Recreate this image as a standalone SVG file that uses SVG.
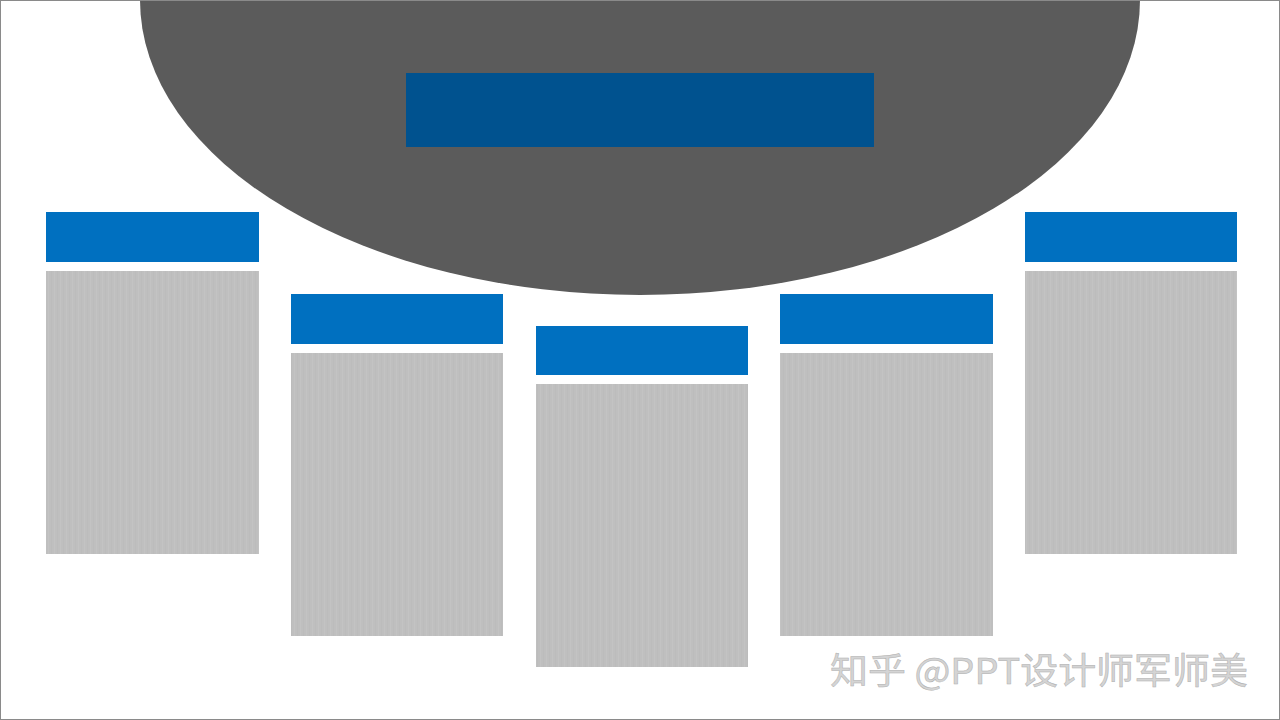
<svg xmlns="http://www.w3.org/2000/svg" width="1280" height="720" viewBox="0 0 1280 720">
<defs>
<pattern id="stripes" width="6" height="10" patternUnits="userSpaceOnUse">
<rect width="6" height="10" fill="#bfbfbf"/>
<rect x="0" width="1" height="10" fill="#c3c3c3"/>
<rect x="3" width="1" height="10" fill="#bcbcbc"/>
</pattern>
</defs>
<style>
.hd{fill:#0070c0}
.bd{fill:url(#stripes)}
.wm{font-family:"Noto Sans CJK SC","Liberation Sans",sans-serif;font-size:36px;fill:#d4d4d4;stroke:#b0b0b0;stroke-width:0.5}
</style>
<rect x="0" y="0" width="1280" height="720" fill="#ffffff"/>
<g id="top-ellipse">
<path d="M140,0 A500,295 0 0 0 1140,0 Z" fill="#5b5b5b"/>
<rect x="406" y="73" width="468" height="74" fill="#00528f"/>
</g>
<g id="card1"><rect class="hd" x="46" y="212" width="213" height="50"/><rect class="bd" x="46" y="271" width="213" height="283"/></g>
<g id="card2"><rect class="hd" x="291" y="294" width="212" height="50"/><rect class="bd" x="291" y="353" width="212" height="283"/></g>
<g id="card3"><rect class="hd" x="536" y="326" width="212" height="49"/><rect class="bd" x="536" y="384" width="212" height="283"/></g>
<g id="card4"><rect class="hd" x="780" y="294" width="213" height="50"/><rect class="bd" x="780" y="353" width="213" height="283"/></g>
<g id="card5"><rect class="hd" x="1025" y="212" width="212" height="50"/><rect class="bd" x="1025" y="271" width="212" height="283"/></g>
<g id="connectors"></g>
<text class="wm" x="830" y="684" textLength="418" lengthAdjust="spacingAndGlyphs">知乎 @PPT设计师军师美</text>
<rect x="0.5" y="0.5" width="1279" height="719" fill="none" stroke="#8a8a8a" stroke-width="1"/>
</svg>
